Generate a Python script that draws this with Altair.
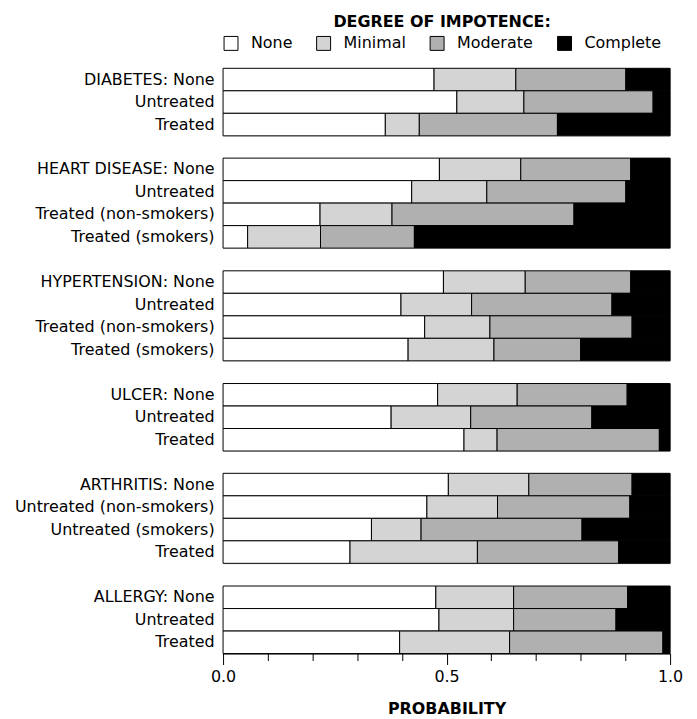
import altair as alt
import pandas as pd

levels = ["None", "Minimal", "Moderate", "Complete"]
level_colors = ["#ffffff", "#d4d4d4", "#b0b0b0", "#000000"]

diseases = ["DIABETES", "HEART DISEASE", "HYPERTENSION", "ULCER", "ARTHRITIS", "ALLERGY"]

row_labels = {
    "DIABETES": ["DIABETES: None", "Untreated", "Treated"],
    "HEART DISEASE": ["HEART DISEASE: None", "Untreated", "Treated (non-smokers)", "Treated (smokers)"],
    "HYPERTENSION": ["HYPERTENSION: None", "Untreated", "Treated (non-smokers)", "Treated (smokers)"],
    "ULCER": ["ULCER: None", "Untreated", "Treated"],
    "ARTHRITIS": ["ARTHRITIS: None", "Untreated (non-smokers)", "Untreated (smokers)", "Treated"],
    "ALLERGY": ["ALLERGY: None", "Untreated", "Treated"],
}

# probability of each degree of impotence, per row (None, Minimal, Moderate, Complete)
p_none = {
    "DIABETES": [0.472, 0.523, 0.363],
    "HEART DISEASE": [0.484, 0.422, 0.217, 0.055],
    "HYPERTENSION": [0.493, 0.398, 0.451, 0.414],
    "ULCER": [0.480, 0.376, 0.539],
    "ARTHRITIS": [0.504, 0.456, 0.332, 0.284],
    "ALLERGY": [0.476, 0.483, 0.395],
}
p_minimal = {
    "DIABETES": [0.183, 0.150, 0.076],
    "HEART DISEASE": [0.182, 0.168, 0.161, 0.163],
    "HYPERTENSION": [0.183, 0.158, 0.146, 0.192],
    "ULCER": [0.178, 0.178, 0.074],
    "ARTHRITIS": [0.180, 0.158, 0.111, 0.285],
    "ALLERGY": [0.174, 0.167, 0.246],
}
p_moderate = {
    "DIABETES": [0.246, 0.289, 0.309],
    "HEART DISEASE": [0.246, 0.311, 0.407, 0.210],
    "HYPERTENSION": [0.236, 0.314, 0.318, 0.194],
    "ULCER": [0.246, 0.271, 0.363],
    "ARTHRITIS": [0.231, 0.296, 0.360, 0.316],
    "ALLERGY": [0.255, 0.229, 0.343],
}
p_complete = {
    "DIABETES": [0.099, 0.038, 0.252],
    "HEART DISEASE": [0.088, 0.099, 0.215, 0.572],
    "HYPERTENSION": [0.088, 0.130, 0.085, 0.200],
    "ULCER": [0.096, 0.175, 0.024],
    "ARTHRITIS": [0.085, 0.090, 0.197, 0.115],
    "ALLERGY": [0.095, 0.121, 0.016],
}

x_ticks = [0.0, 0.1, 0.2, 0.3, 0.4, 0.5, 0.6, 0.7, 0.8, 0.9, 1.0]

FONT = "DejaVu Sans"
FS = 16
ROW_STEP = 22.6
PLOT_W = 449

records = []
for d in diseases:
    for i, r in enumerate(row_labels[d]):
        for k, (lvl, src) in enumerate(zip(levels, [p_none, p_minimal, p_moderate, p_complete])):
            records.append({"disease": d, "row": r, "level": lvl, "ord": k, "p": src[d][i]})
df = pd.DataFrame(records)

color_enc = alt.Color(
    "level:N",
    scale=alt.Scale(domain=levels, range=level_colors),
    legend=alt.Legend(
        title="DEGREE OF IMPOTENCE:",
        orient="top",
        direction="horizontal",
        titleAnchor="middle",
        titleFontSize=16,
        titleFontWeight="bold",
        titleFont=FONT,
        titleColor="black",
        titleLimit=500,
        titlePadding=5,
        labelFont=FONT,
        labelFontSize=FS,
        labelColor="black",
        labelOffset=12,
        labelLimit=200,
        symbolType="square",
        symbolSize=196,
        symbolStrokeColor="black",
        symbolStrokeWidth=1,
        symbolOpacity=1,
        columnPadding=22,
        offset=15,
    ),
)

panels = []
for idx, d in enumerate(diseases):
    last = idx == len(diseases) - 1
    if last:
        x_axis = alt.Axis(
            values=x_ticks,
            labelExpr="datum.value == 0 || datum.value == 0.5 || datum.value == 1 ? format(datum.value, '.1f') : ''",
            tickSize={"condition": {"test": "datum.value == 0 || datum.value == 0.5 || datum.value == 1", "value": 11}, "value": 7},
            tickColor="black",
            domainColor="black",
            labelFont=FONT,
            labelFontSize=FS,
            labelColor="black",
            labelPadding=4,
            labelFlush=False,
            grid=False,
            title="PROBABILITY",
            titleFont=FONT,
            titleFontSize=FS,
            titleFontWeight="bold",
            titleColor="black",
            titlePadding=16,
        )
    else:
        x_axis = None
    ch = alt.Chart(df[df["disease"] == d]).mark_bar(stroke="black", strokeWidth=1).encode(
        x=alt.X("p:Q", stack="zero", scale=alt.Scale(domain=[0, 1], nice=False), axis=x_axis),
        y=alt.Y(
            "row:N",
            sort=row_labels[d],
            scale=alt.Scale(paddingInner=0, paddingOuter=0),
            axis=alt.Axis(
                title=None,
                ticks=False,
                domain=False,
                labelFont=FONT,
                labelFontSize=FS,
                labelColor="black",
                labelPadding=9,
                labelLimit=400,
            ),
        ),
        color=color_enc,
        order=alt.Order("ord:Q"),
    ).properties(width=PLOT_W, height=ROW_STEP * len(row_labels[d]))
    panels.append(ch)

chart = alt.vconcat(*panels, spacing=20.2).configure_view(
    stroke="black", strokeWidth=1
).configure(padding={"left": 5, "top": 5, "right": 5, "bottom": 5}, background="white")

chart.save("out.html", embed_options={"renderer": "svg", "actions": False})
